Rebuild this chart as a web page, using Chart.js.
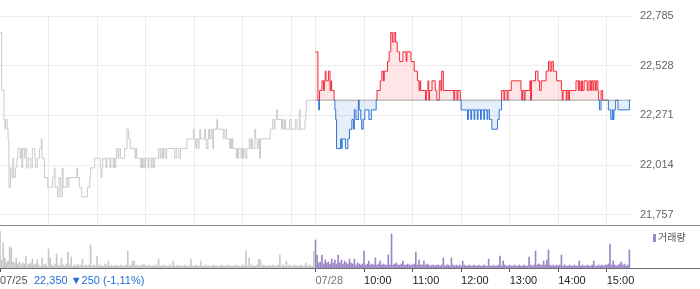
<!DOCTYPE html>
<html>
<head>
<meta charset="utf-8">
<script src="https://cdn.jsdelivr.net/npm/chart.js"></script>
<style>
  * { margin: 0; padding: 0; box-sizing: border-box; }
  body { background: #fff; overflow: hidden; }
  .wrap { position: relative; width: 700px; height: 289px; }
  #price { position: absolute; left: 0; top: 0; }
  #volume { position: absolute; left: 0; top: 226px; }
  /* volume legend */
  .legend { position: absolute; left: 653px; top: 231px; font: 10px 'Noto Sans CJK KR', sans-serif; color: #555; line-height: 12px; white-space: nowrap; }
  .legend i { display: inline-block; width: 3px; height: 8px; background: #9b86c8; margin-right: 2px; vertical-align: -1px; }
</style>
</head>
<body>
<div class="wrap">
  <canvas id="price" width="700" height="226"></canvas>
  <canvas id="volume" width="700" height="63"></canvas>
  <div class="legend"><i></i>거래량</div>
</div>

<script>
  // previous close (07/25)
  const BASE = 22350;

  // 07/25 minute line: minutes after 09:00, price
  const day1Time = [0,2,5,6,7,9,10,11,13,15,16,17,19,21,22,25,26,27,28,30,31,33,35,38,40,43,44,46,49,51,52,55,59,65,67,68,71,73,75,77,78,82,84,85,95,96,98,101,108,111,112,117,124,125,126,127,131,132,136,137,140,141,142,143,144,146,147,149,154,157,159,161,167,168,169,174,175,176,177,179,180,183,184,187,188,190,191,196,198,199,201,202,204,206,216,218,221,223,231,239,240,242,243,245,246,247,248,253,254,255,257,258,259,261,263,264,268,269,276,278,280,284,285,286,287,288,292,293,294,295,298,299,300,301,303,305,308,310,311,312,315,316,318,320,321,322,334,337,339,340,342,343,348,349,350,352,353,358,360,365,367,370,371,377,378,379,390];
  const day1Price = [22700,22400,22250,22200,22250,22200,22150,21900,22000,21950,22050,21950,22000,22050,22100,22050,22100,22000,22100,22050,22100,22000,22050,22000,22100,22050,22000,22050,22100,22150,22050,21950,21900,21950,22000,21900,21850,21950,21850,22000,21900,21950,21900,21950,22000,21950,21900,21850,21900,21950,22000,22050,22000,21950,22000,22050,22000,22050,22000,22050,22000,22050,22000,22050,22100,22050,22100,22050,22100,22200,22150,22100,22050,22100,22050,22000,22050,22000,22050,22000,22050,22000,22050,22000,22050,22000,22050,22100,22050,22100,22050,22100,22050,22100,22050,22100,22050,22100,22150,22200,22150,22100,22150,22100,22150,22200,22150,22200,22150,22100,22150,22200,22150,22200,22100,22200,22250,22200,22150,22200,22150,22100,22150,22100,22150,22100,22050,22100,22050,22100,22050,22100,22050,22100,22050,22100,22150,22100,22150,22100,22200,22150,22100,22150,22050,22150,22200,22250,22200,22250,22300,22250,22200,22250,22200,22250,22200,22250,22200,22250,22200,22300,22200,22250,22300,22350,22350];

  // 07/28 minute line
  const day2Time = [0,3,4,5,8,10,11,12,13,16,18,19,20,23,24,25,26,31,32,33,37,40,42,45,47,48,50,53,54,56,57,59,61,66,69,75,76,80,82,84,85,89,91,93,95,97,99,101,104,108,112,113,118,122,126,128,129,130,136,137,139,140,141,144,148,150,153,155,156,158,171,172,175,176,179,180,188,189,192,193,196,197,200,201,204,205,208,209,212,213,215,218,225,227,230,233,234,237,238,242,254,255,256,258,259,265,266,267,272,275,277,279,285,288,290,292,294,298,304,305,306,310,311,313,314,322,325,326,327,329,330,332,336,338,340,341,343,344,346,347,349,350,351,353,355,362,365,367,368,369,371,374,388,389];
  const day2Price = [22600,22350,22300,22400,22450,22400,22450,22500,22450,22500,22400,22450,22400,22350,22300,22250,22100,22150,22100,22150,22100,22150,22200,22250,22200,22300,22250,22350,22300,22250,22200,22250,22300,22250,22300,22350,22400,22450,22500,22450,22500,22550,22600,22700,22650,22700,22650,22600,22550,22600,22550,22600,22550,22500,22450,22400,22450,22400,22350,22400,22450,22350,22400,22450,22400,22350,22450,22400,22500,22400,22350,22400,22350,22400,22350,22300,22250,22300,22250,22300,22250,22300,22250,22300,22250,22300,22250,22300,22250,22300,22250,22200,22250,22300,22400,22350,22400,22350,22400,22450,22400,22350,22400,22350,22400,22450,22350,22450,22500,22450,22400,22450,22500,22550,22500,22550,22500,22450,22400,22350,22400,22350,22400,22350,22400,22450,22400,22450,22400,22450,22400,22450,22400,22450,22400,22450,22400,22450,22400,22450,22400,22350,22300,22400,22350,22300,22250,22300,22250,22300,22350,22300,22350,22350];

  // volume, one value per 2 minutes (thousand shares)
  const VOL_STEP = 2;
  const day1Vol = [
    37,8,25,10,6,7,21,20,6,5, 10,4,6,3,5,4,12,3,4,5, 9,3,4,8,3,2,10,3,4,2,
    19,10,3,2,4,14,3,2,10,3, 2,4,16,3,11,2,3,2,4,2, 3,9,2,3,2,3,23,2,3,2,
    12,2,3,2,2,4,2,7,2,3, 2,2,3,2,2,3,2,2,3,17, 2,3,7,7,2,3,2,2,3,4,
    2,2,3,2,2,2,3,2,9,2, 2,3,2,2,2,3,2,7,2,2, 3,2,2,2,3,2,2,2,9,2,
    2,3,2,2,7,2,2,3,2,2, 2,2,3,2,2,2,2,3,2,2, 2,3,2,2,2,2,3,2,2,2,
    3,2,17,2,10,2,3,2,2,3, 9,8,2,3,2,2,3,2,2,3, 2,2,3,13,2,3,2,7,2,3,
    2,2,3,2,2,2,3,2,2,5, 2,3,2,2,17
  ];
  const day2Vol = [
    28,13,5,6,13,4,8,5,6,4, 9,5,8,4,13,5,8,4,7,5, 4,9,5,4,9,3,5,4,3,4,
    17,3,4,7,3,4,3,10,3,4, 7,3,4,3,3,13,3,34,3,4, 5,3,3,4,7,3,3,4,3,3,
    3,4,16,3,8,3,3,7,3,4, 3,2,3,3,2,3,3,2,3,10, 2,3,3,2,10,3,2,3,2,3,
    2,7,3,2,2,3,2,2,3,2, 2,3,2,2,3,2,2,9,2,2, 3,2,2,3,12,2,7,3,2,2,
    3,2,2,3,2,2,3,2,2,3, 2,2,11,3,2,3,17,3,4,3, 3,7,3,8,18,3,2,3,2,3,
    2,3,13,2,3,2,2,3,2,2, 3,2,2,7,2,3,2,2,3,2, 2,3,7,2,2,3,2,3,2,3,
    3,4,24,3,7,3,2,3,4,6, 3,4,2,3,18
  ];

  // axis ticks (minutes on the two-day axis, 07/28 09:00 = 390)
  const priceTicks = [22785, 22528, 22271, 22014, 21757];
  const gridTimes = [60, 120, 180, 240, 300, 360, 390, 450, 510, 570, 630, 690, 750];
  const axisTimes = [0, 42, 390, 450, 510, 570, 630, 690, 750];
  const axisLabels = ['07/25', '22,350 \u25BC250 (-1,11%)', '07/28', '10:00', '11:00', '12:00', '13:00', '14:00', '15:00'];

  const RED = '#f32a3c';
  const BLUE = '#2f74d8';
  const FONT = "'Liberation Sans', 'Noto Sans CJK KR', sans-serif";
  Chart.defaults.font.family = FONT;

  // red above the previous close, blue below
  function splitColor(chart) {
    const { ctx, chartArea, scales } = chart;
    if (!chartArea) return RED;
    const y = scales.y.getPixelForValue(BASE);
    const f = Math.min(1, Math.max(0, (y - chartArea.top) / (chartArea.bottom - chartArea.top)));
    const g = ctx.createLinearGradient(0, chartArea.top, 0, chartArea.bottom);
    g.addColorStop(0, RED);
    g.addColorStop(f, RED);
    g.addColorStop(f, BLUE);
    g.addColorStop(1, BLUE);
    return g;
  }

  // full-width separator under a chart area
  const ruleLine = {
    id: 'ruleLine',
    afterDraw(chart, args, opts) {
      const { ctx, chartArea } = chart;
      ctx.save();
      ctx.strokeStyle = opts.color;
      ctx.lineWidth = 1;
      ctx.beginPath();
      ctx.moveTo(0, chartArea.bottom + 0.5);
      ctx.lineTo(chart.width, chartArea.bottom + 0.5);
      ctx.stroke();
      ctx.restore();
    }
  };

  const priceChart = new Chart(document.getElementById('price'), {
    type: 'line',
    data: {
      datasets: [
        {
          label: 'base',
          data: [{ x: 390, y: BASE }, { x: 780, y: BASE }],
          borderColor: '#555',
          borderDash: [1, 1],
          borderWidth: 1,
          pointRadius: 0,
          fill: false
        },
        {
          label: '07/28',
          data: day2Time.map((t, i) => ({ x: 390 + t, y: day2Price[i] })),
          stepped: true,
          borderColor: ctx => splitColor(ctx.chart),
          borderWidth: 1,
          pointRadius: 0,
          fill: { value: BASE, above: 'rgba(243,42,60,0.12)', below: 'rgba(47,116,216,0.12)' }
        },
        {
          label: '07/25',
          data: day1Time.map((t, i) => ({ x: t, y: day1Price[i] })),
          stepped: true,
          borderColor: '#c8cace',
          borderWidth: 1,
          pointRadius: 0,
          fill: false
        }
      ]
    },
    options: {
      responsive: false,
      animation: false,
      layout: { padding: { top: 16, left: 0, right: 0, bottom: 1 } },
      plugins: { legend: { display: false }, tooltip: { enabled: false }, ruleLine: { color: '#8a8a8a' } },
      scales: {
        x: {
          type: 'linear', min: 0, max: 780,
          grid: { color: '#ececec', drawTicks: false },
          border: { display: false },
          ticks: { display: false },
          afterBuildTicks: s => { s.ticks = gridTimes.map(v => ({ value: v })); },
          afterFit: s => { s.height = 0; s.paddingLeft = 0; s.paddingRight = 0; }
        },
        y: {
          position: 'right', min: 21705, max: 22785,
          grid: { color: '#ececec', drawTicks: false },
          border: { display: false },
          ticks: { color: '#666', font: { size: 11 }, padding: 9, callback: v => v.toLocaleString('en-US') },
          afterBuildTicks: s => { s.ticks = priceTicks.map(v => ({ value: v })); },
          afterFit: s => { s.width = 69; s.paddingTop = 0; s.paddingBottom = 0; }
        }
      }
    },
    plugins: [ruleLine]
  });

  const labelColor = v => v === 42 ? '#1f6fd6' : (v === 0 ? '#555' : (v === 390 ? '#777' : '#222'));

  const volumeChart = new Chart(document.getElementById('volume'), {
    type: 'bar',
    data: {
      datasets: [
        { label: '07/25', data: day1Vol.map((v, i) => ({ x: i * VOL_STEP, y: v })), backgroundColor: '#c6c8cb', barThickness: 1, grouped: false },
        { label: '거래량', data: day2Vol.map((v, i) => ({ x: 390 + i * VOL_STEP, y: v })), backgroundColor: '#9b86c8', barThickness: 1, grouped: false }
      ]
    },
    options: {
      responsive: false,
      animation: false,
      layout: { padding: { top: 0, left: 0, right: 69, bottom: 0 } },
      plugins: { legend: { display: false }, tooltip: { enabled: false }, ruleLine: { color: '#6e6e6e' } },
      scales: {
        x: {
          type: 'linear', min: 0, max: 780, offset: false,
          grid: {
            offset: false, drawOnChartArea: false, drawTicks: true, tickLength: 4,
            tickColor: c => (c.tick && c.tick.value === 42) ? 'rgba(0,0,0,0)' : '#555'
          },
          border: { display: false },
          ticks: {
            align: 'start', padding: 2, maxRotation: 0, autoSkip: false,
            font: { size: 11 },
            color: c => labelColor(c.tick.value),
            callback: v => axisLabels[axisTimes.indexOf(v)]
          },
          afterBuildTicks: s => { s.ticks = axisTimes.map(v => ({ value: v })); },
          afterFit: s => { s.height = 21; s.paddingLeft = 0; s.paddingRight = 0; }
        },
        y: { display: false, min: 0, max: 42 }
      }
    },
    plugins: [ruleLine]
  });
</script>
</body>
</html>
